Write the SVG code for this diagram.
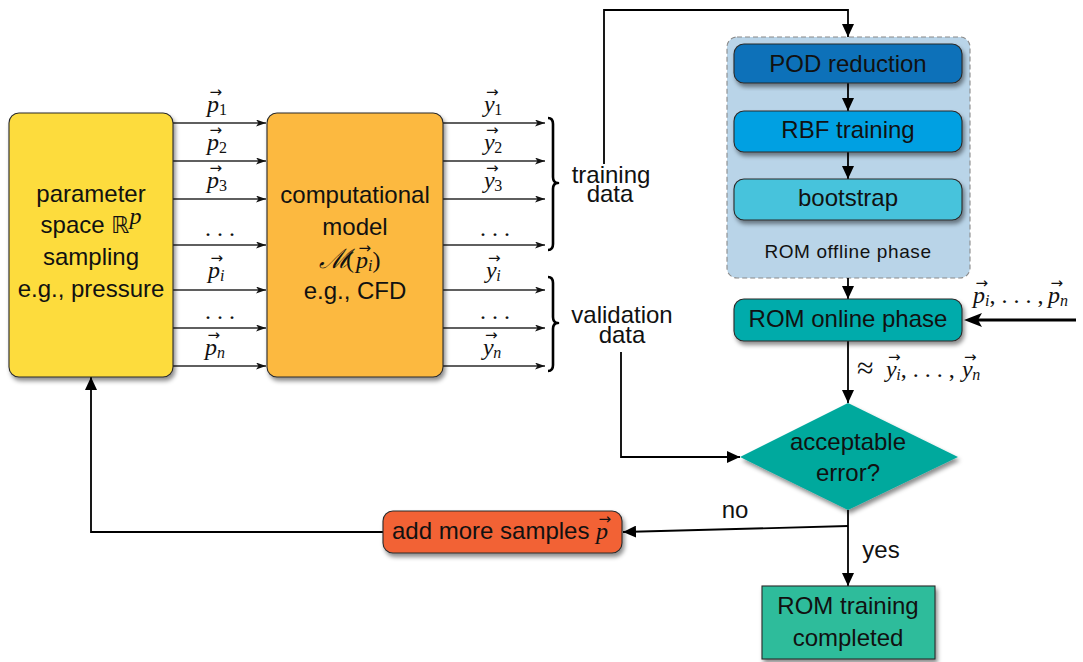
<svg xmlns="http://www.w3.org/2000/svg" width="1083" height="662" viewBox="0 0 1083 662">
<defs>
<style>
.t{font-family:"Liberation Sans",Arial,sans-serif;font-size:24px;fill:#111;text-anchor:middle}
.sm{font-size:19px;letter-spacing:0.6px}
.m{font-family:"Liberation Serif","Times New Roman",serif;font-style:italic;font-size:24px;fill:#111}
.up{font-style:normal}
.sb{font-size:16px}
.a{font-family:"DejaVu Sans",sans-serif;font-size:15px;font-style:normal}
.box{stroke:#2a2a2a;stroke-width:1.1}
.thin{stroke:#2a2a2a;stroke-width:1.3;fill:none;marker-end:url(#st)}
.flow{stroke:#000;stroke-width:1.8;fill:none;marker-end:url(#la)}
.br{stroke:#000;stroke-width:2.6;fill:none;stroke-linejoin:round}
</style>
<filter id="sh" x="-10%" y="-10%" width="125%" height="130%">
<feDropShadow dx="2" dy="3.5" stdDeviation="2.2" flood-color="#000" flood-opacity="0.45"/>
</filter>
<marker id="st" viewBox="0 0 10 7" refX="10" refY="3.5" markerWidth="10" markerHeight="7" markerUnits="userSpaceOnUse" orient="auto">
<path d="M0,0 L10,3.5 L0,7 L2.5,3.5 z" fill="#111"/>
</marker>
<marker id="la" viewBox="0 0 13 12" refX="13" refY="6" markerWidth="13" markerHeight="12" markerUnits="userSpaceOnUse" orient="auto">
<path d="M0,0 L13,6 L0,12 z" fill="#000"/>
</marker>
<marker id="big" viewBox="0 0 18 14" refX="7" refY="7" markerWidth="18" markerHeight="14" markerUnits="userSpaceOnUse" orient="auto">
<path d="M0,0 L18,7 L0,14 L4,7 z" fill="#000"/>
</marker>
</defs>

<g id="offline">
<rect x="727" y="37" width="243" height="241" rx="10" fill="#B9D4E8" stroke="#8a8a8a" stroke-width="1.1" stroke-dasharray="5,3"/>
<text class="t sm" x="848" y="258">ROM offline phase</text>
</g>

<g id="connectors">
<line class="thin" x1="173" y1="123" x2="266" y2="123"/>
<line class="thin" x1="173" y1="161" x2="266" y2="161"/>
<line class="thin" x1="173" y1="199" x2="266" y2="199"/>
<line class="thin" x1="173" y1="245" x2="266" y2="245"/>
<line class="thin" x1="173" y1="290" x2="266" y2="290"/>
<line class="thin" x1="173" y1="328" x2="266" y2="328"/>
<line class="thin" x1="173" y1="366" x2="266" y2="366"/>
<line class="thin" x1="443" y1="123" x2="545" y2="123"/>
<line class="thin" x1="443" y1="161" x2="545" y2="161"/>
<line class="thin" x1="443" y1="199" x2="545" y2="199"/>
<line class="thin" x1="443" y1="245" x2="545" y2="245"/>
<line class="thin" x1="443" y1="290" x2="545" y2="290"/>
<line class="thin" x1="443" y1="328" x2="545" y2="328"/>
<line class="thin" x1="443" y1="366" x2="545" y2="366"/>
<path class="br" d="M548,118 Q553,118 553,124 L553,177 Q553,183 558,183 Q553,183 553,189 L553,244 Q553,250 548,250"/>
<path class="br" d="M548,277 Q553,277 553,283 L553,317 Q553,323 558,323 Q553,323 553,329 L553,365 Q553,371 548,371"/>
<path class="flow" d="M604,164 L604,10 L848,10 L848,37"/>
<path class="flow" d="M848,83 L848,111"/>
<path class="flow" d="M848,152 L848,179"/>
<path class="flow" d="M848,278 L848,299"/>
<path class="flow" d="M848,341 L848,403"/>
<path class="flow" d="M621,352 L621,457 L740,457"/>
<path class="flow" d="M848,510 L848,586"/>
<path class="flow" d="M848,526 L623,532"/>
<path class="flow" d="M383,532 L91,532 L91,377"/>
<line x1="1076" y1="320" x2="975" y2="320" stroke="#000" stroke-width="3" marker-end="url(#big)"/>
</g>

<g id="labels">
<text class="m" x="207" y="112">p<tspan class="a" dx="-9.5" dy="-15">→</tspan><tspan class="sb up" dx="-3" dy="18">1</tspan></text>
<text class="m" x="207" y="150">p<tspan class="a" dx="-9.5" dy="-15">→</tspan><tspan class="sb up" dx="-3" dy="18">2</tspan></text>
<text class="m" x="207" y="188">p<tspan class="a" dx="-9.5" dy="-15">→</tspan><tspan class="sb up" dx="-3" dy="18">3</tspan></text>
<text class="m up" x="205" y="236">. . .</text>
<text class="m" x="208" y="278">p<tspan class="a" dx="-9.5" dy="-15">→</tspan><tspan class="sb" dx="-3" dy="18">i</tspan></text>
<text class="m up" x="205" y="319">. . .</text>
<text class="m" x="205" y="355">p<tspan class="a" dx="-9.5" dy="-15">→</tspan><tspan class="sb" dx="-3" dy="18">n</tspan></text>

<text class="m" x="484" y="112">y<tspan class="a" dx="-8.7" dy="-15">→</tspan><tspan class="sb up" dx="-4.3" dy="18">1</tspan></text>
<text class="m" x="484" y="150">y<tspan class="a" dx="-8.7" dy="-15">→</tspan><tspan class="sb up" dx="-4.3" dy="18">2</tspan></text>
<text class="m" x="484" y="188">y<tspan class="a" dx="-8.7" dy="-15">→</tspan><tspan class="sb up" dx="-4.3" dy="18">3</tspan></text>
<text class="m up" x="480" y="236">. . .</text>
<text class="m" x="486" y="278">y<tspan class="a" dx="-8.7" dy="-15">→</tspan><tspan class="sb" dx="-4.3" dy="18">i</tspan></text>
<text class="m up" x="480" y="319">. . .</text>
<text class="m" x="483" y="355">y<tspan class="a" dx="-8.7" dy="-15">→</tspan><tspan class="sb" dx="-4.3" dy="18">n</tspan></text>

<text class="t" x="611" y="183">training</text>
<text class="t" x="610" y="202">data</text>
<text class="t" x="622" y="323">validation</text>
<text class="t" x="622" y="343">data</text>

<text class="m" x="973" y="303">p<tspan class="a" dx="-9.5" dy="-15">→</tspan><tspan class="sb" dx="-3" dy="18">i</tspan><tspan class="up" dy="-3">, . . . , </tspan></text>
<text class="m" x="1048" y="303">p<tspan class="a" dx="-9.5" dy="-15">→</tspan><tspan class="sb" dx="-3" dy="18">n</tspan></text>

<text class="m" x="857" y="378"><tspan class="up" font-size="30">≈</tspan></text>
<text class="m" x="886" y="377">y<tspan class="a" dx="-8.7" dy="-15">→</tspan><tspan class="sb" dx="-4.3" dy="18">i</tspan><tspan class="up" dy="-3">, . . . , </tspan></text>
<text class="m" x="962" y="377">y<tspan class="a" dx="-8.7" dy="-15">→</tspan><tspan class="sb" dx="-4.3" dy="18">n</tspan></text>

<text class="t" x="735" y="518">no</text>
<text class="t" x="881" y="558">yes</text>
</g>

<g id="sampling">
<rect class="box" x="9" y="113" width="164" height="264" rx="10" fill="#FDDC3C" filter="url(#sh)"/>
<text class="t" x="91" y="202">parameter</text>
<text class="t" x="91" y="233">space <tspan font-family="DejaVu Sans" font-size="23">ℝ</tspan><tspan class="m" font-size="17" dy="-9">p</tspan></text>
<text class="t" x="91" y="265">sampling</text>
<text class="t" x="91" y="297">e.g., pressure</text>
</g>

<g id="model">
<rect class="box" x="267" y="113" width="176" height="264" rx="10" fill="#FCB941" filter="url(#sh)"/>
<text class="t" x="355" y="203">computational</text>
<text class="t" x="355" y="235">model</text>
<text class="m" x="319" y="268"><tspan font-family="DejaVu Serif" font-size="27">ℳ</tspan><tspan class="up" x="346">(</tspan><tspan x="356">p</tspan><tspan class="a" dx="-9.5" dy="-15">→</tspan><tspan class="sb" dx="-3" dy="18">i</tspan><tspan class="up" dy="-3">)</tspan></text>
<text class="t" x="355" y="299">e.g., CFD</text>
</g>

<g id="pod">
<rect class="box" x="734" y="44" width="228" height="39" rx="10" fill="#0971B9" filter="url(#sh)"/>
<text class="t" x="848" y="72">POD reduction</text>
</g>

<g id="rbf">
<rect class="box" x="734" y="111" width="228" height="41" rx="10" fill="#01A0E2" filter="url(#sh)"/>
<text class="t" x="848" y="138">RBF training</text>
</g>

<g id="bootstrap">
<rect class="box" x="734" y="179" width="228" height="41" rx="10" fill="#47C3DC" filter="url(#sh)"/>
<text class="t" x="848" y="206">bootstrap</text>
</g>

<g id="online">
<rect class="box" x="734" y="299" width="228" height="42" rx="10" fill="#00ABAB" filter="url(#sh)"/>
<text class="t" x="848" y="327">ROM online phase</text>
</g>

<g id="decision">
<polygon points="848,403 958,457 848,510 740,457" fill="#00A99D" filter="url(#sh)"/>
<text class="t" x="848" y="450">acceptable</text>
<text class="t" x="848" y="481">error?</text>
</g>

<g id="addsamples">
<rect class="box" x="383" y="511" width="239" height="42" rx="10" fill="#F26234" filter="url(#sh)"/>
<text class="t" x="392" y="539" style="text-anchor:start">add more samples <tspan class="m">p</tspan><tspan class="a" dx="-9.5" dy="-15">→</tspan></text>
</g>

<g id="completed">
<rect class="box" x="762" y="586" width="173" height="73" fill="#2DBC9B" filter="url(#sh)"/>
<text class="t" x="848" y="614">ROM training</text>
<text class="t" x="848" y="646">completed</text>
</g>
</svg>
